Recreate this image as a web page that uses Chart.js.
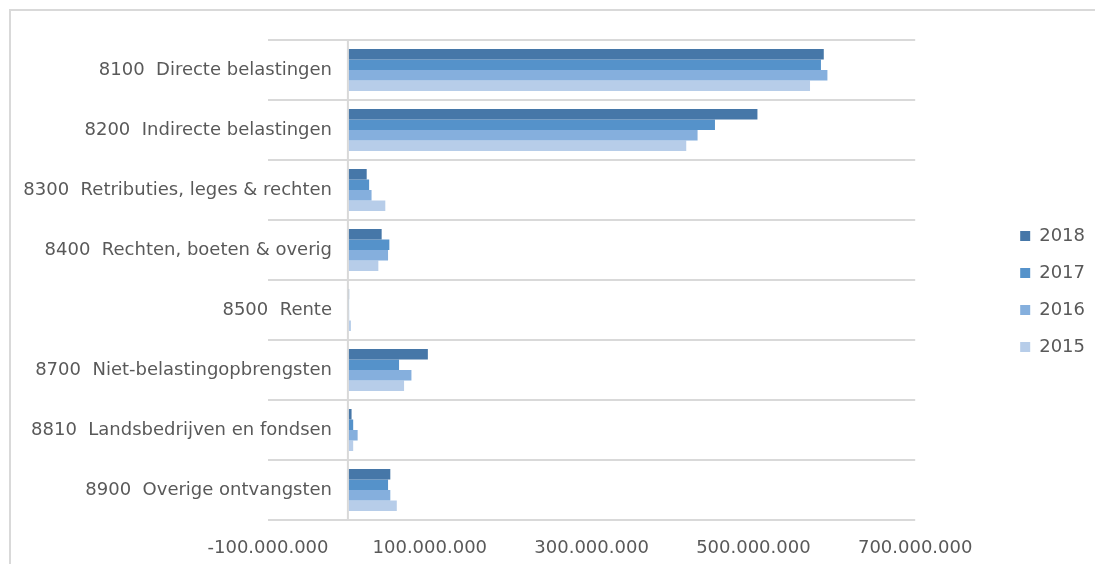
<!DOCTYPE html>
<html>
<head>
<meta charset="utf-8">
<script src="https://cdn.jsdelivr.net/npm/chart.js@4.4.1/dist/chart.umd.min.js"></script>
<style>
html,body{margin:0;padding:0;background:#fff;overflow:hidden;}
#wrap{position:relative;width:1095px;height:564px;}
#frame{position:absolute;left:9px;top:9px;width:1200px;height:700px;border:2px solid #d9d9d9;}
#c{position:absolute;left:0;top:0;}
</style>
</head>
<body>
<div id="wrap"><div id="frame"></div><canvas id="c" width="1095" height="564"></canvas></div>
<script>
const categories = [
  '8100  Directe belastingen',
  '8200  Indirecte belastingen',
  '8300  Retributies, leges & rechten',
  '8400  Rechten, boeten & overig',
  '8500  Rente',
  '8700  Niet-belastingopbrengsten',
  '8810  Landsbedrijven en fondsen',
  '8900  Overige ontvangsten'
];
const seriesNames = ['2018', '2017', '2016', '2015'];
const values2018 = [587000000, 505000000, 22000000, 40500000, 300000, 97600000, 3300000, 51200000];
const values2017 = [583500000, 452500000, 25000000, 50000000, 200000, 62000000, 5300000, 48400000];
const values2016 = [591500000, 431000000, 28000000, 48400000, 300000, 77300000, 10800000, 51200000];
const values2015 = [570000000, 417000000, 45000000, 36400000, 2500000, 68200000, 5300000, 59200000];
const seriesColors = ['#4677a8', '#5592ca', '#85afdd', '#b7cde9'];
const xTicks = [-100000000, 100000000, 300000000, 500000000, 700000000];

const FONT_FAMILY = '"DejaVu Sans", Verdana, sans-serif';
const FONT_SIZE = 18;

function fmt(v) {
  const neg = v < 0;
  let s = Math.round(Math.abs(v)).toString();
  s = s.replace(/\B(?=(\d{3})+(?!\d))/g, '.');
  return (neg ? '-' : '') + s;
}

// widest category label, so the right-aligned labels end just left of the zero line
const mctx = document.createElement('canvas').getContext('2d');
mctx.font = 'normal ' + FONT_SIZE + 'px ' + FONT_FAMILY;
const widestLabel = Math.max(...categories.map(c => mctx.measureText(c).width));

const seriesValues = [values2018, values2017, values2016, values2015];
const datasets = seriesNames.map((n, i) => ({
  label: n,
  data: seriesValues[i],
  backgroundColor: seriesColors[i],
  borderWidth: 0,
  categoryPercentage: 0.7,
  barPercentage: 1.0
}));

const zeroLine = {
  id: 'zeroLine',
  beforeDatasetsDraw(chart) {
    const x = chart.scales.x.getPixelForValue(0);
    const a = chart.chartArea;
    const ctx = chart.ctx;
    ctx.save();
    ctx.strokeStyle = '#d9d9d9';
    ctx.lineWidth = 2;
    ctx.beginPath();
    ctx.moveTo(x - 1, a.top);
    ctx.lineTo(x - 1, a.bottom);
    ctx.stroke();
    ctx.restore();
  }
};

Chart.defaults.font.family = FONT_FAMILY;
Chart.defaults.font.size = FONT_SIZE;
Chart.defaults.color = '#595959';

new Chart(document.getElementById('c'), {
  type: 'bar',
  data: { labels: categories, datasets },
  options: {
    indexAxis: 'y',
    responsive: false,
    animation: false,
    layout: { padding: { left: 0, right: 0, top: 19, bottom: 0 } },
    scales: {
      x: {
        type: 'linear',
        min: -100000000,
        max: 700000000,
        afterBuildTicks(scale) { scale.ticks = xTicks.map(v => ({ value: v })); },
        afterFit(scale) { scale.height = 44; },
        grid: { display: false },
        border: { display: false },
        ticks: { padding: 10, maxRotation: 0, autoSkip: false, callback: v => fmt(v) }
      },
      xTop: {
        type: 'linear',
        axis: 'x',
        position: 'top',
        display: true,
        afterFit(scale) { scale.height = 21; },
        grid: { display: false },
        border: { display: false },
        ticks: { display: false }
      },
      y: {
        afterFit(scale) { scale.width = 268; },
        grid: { color: '#d9d9d9', lineWidth: 2, drawTicks: false },
        border: { display: false },
        ticks: { mirror: true, crossAlign: 'far', padding: 64 - widestLabel, autoSkip: false }
      },
      yRight: {
        type: 'linear',
        axis: 'y',
        position: 'right',
        display: true,
        afterFit(scale) { scale.width = 86; },
        grid: { display: false },
        border: { display: false },
        ticks: { display: false }
      }
    },
    plugins: {
      legend: {
        position: 'right',
        labels: { boxWidth: 10, boxHeight: 10, padding: 19, color: '#595959', font: { size: FONT_SIZE } }
      },
      tooltip: { enabled: false }
    }
  },
  plugins: [zeroLine]
});
</script>
</body>
</html>
